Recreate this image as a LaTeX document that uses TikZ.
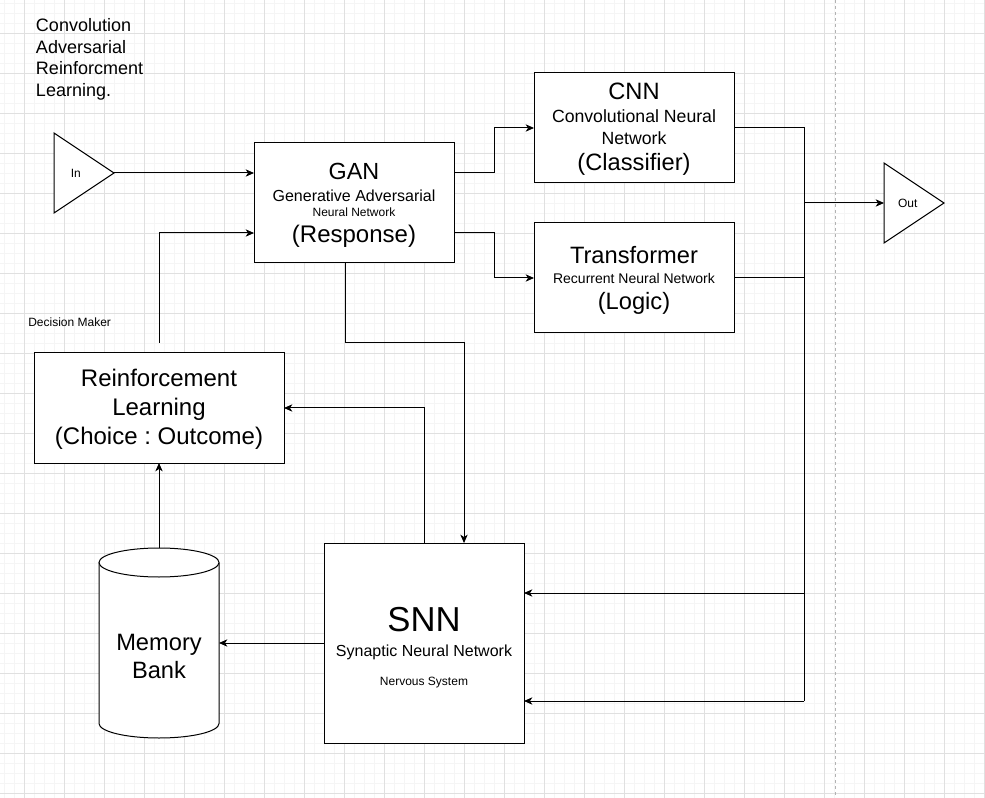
\documentclass[tikz,border=0pt]{standalone}
\usepackage{fontspec}
\setmainfont{Liberation Sans}
\usetikzlibrary{arrows.meta,calc}
\newcommand\fsz[1]{\fontsize{#1pt}{#1pt}\selectfont}
\frenchspacing
\begin{document}
\begin{tikzpicture}[x=0.75pt,y=-0.75pt,
  box/.style={draw=black,line width=0.75pt,fill=white,rectangle,inner sep=0pt,outer sep=0pt},
  lbl/.style={anchor=base,inner sep=0pt,outer sep=0pt,text=black},
  lblw/.style={anchor=base west,inner sep=0pt,outer sep=0pt,text=black},
  wire/.style={line width=0.75pt,draw=black},
  arr/.style={wire,-{Stealth[length=6.25pt,width=5.5pt,inset=1.75pt]}},
  gridminor/.style={draw=black!4,line width=0.75pt},
  gridmajor/.style={draw=black!12,line width=0.75pt},
]
\useasboundingbox (0,0) rectangle (985,798);
\fill[white] (0,0) rectangle (985,798);
% grid
\foreach \gx in {4.5,14.5,...,985} \draw[gridminor] (\gx,0) -- (\gx,798);
\foreach \gy in {3.3,13.3,...,798} \draw[gridminor] (0,\gy) -- (985,\gy);
\foreach \gx in {24.5,64.5,...,985} \draw[gridmajor] (\gx,0) -- (\gx,798);
\foreach \gy in {33.3,73.3,...,798} \draw[gridmajor] (0,\gy) -- (985,\gy);
% page break line
\draw[black!30,line width=0.75pt,dash pattern=on 2.25pt off 2.25pt] (835,0) -- (835,798);

% title text
\node[lblw,font=\fsz{13.5}] (t1) at (36,31.7) {Convolution};
\node[lblw,font=\fsz{13.5}] (t2) at (36,53.3) {Adversarial};
\node[lblw,font=\fsz{13.5}] (t3) at (36,75) {Reinforcment};
\node[lblw,font=\fsz{13.5}] (t4) at (36,96.7) {Learning.};

% boxes
\node[box,minimum width=150pt,minimum height=90pt] (gan) at (354,203) {};
\node[box,minimum width=150pt,minimum height=82.5pt] (cnn) at (634,128) {};
\node[box,minimum width=150pt,minimum height=82.5pt] (tra) at (634,278) {};
\node[box,minimum width=187.5pt,minimum height=82.5pt] (rl) at (159,408) {};
\node[box,minimum width=150pt,minimum height=150pt] (snn) at (424,643) {};
\node[inner sep=0pt,outer sep=0pt,minimum width=90pt,minimum height=142.5pt] (mem) at (159,643) {};

% memory bank cylinder
\filldraw[wire,fill=white] (99,562.5) -- (99,723.5)
  arc[start angle=180,end angle=360,x radius=45pt,y radius=10.875pt] -- (219,562.5);
\filldraw[wire,fill=white] (159,562.5) ellipse[x radius=45pt,y radius=10.875pt];

% in / out triangles
\filldraw[wire,fill=white] (54,133) -- (54,213) -- (114,173) -- cycle;
\coordinate (inTip) at (114,173);
\filldraw[wire,fill=white] (884,163) -- (884,243) -- (944,203) -- cycle;
\coordinate (outIn) at (884,203);
\node[lbl,font=\fsz{9}] (inLbl) at (75.8,177.3) {In};
\node[lbl,font=\fsz{9}] (outLbl) at (907.8,207.3) {Out};

% box texts
\node[lbl,font=\fsz{17.5}] (ganA) at (354,179.3) {GAN};
\node[lbl,font=\fsz{12}] (ganB) at (354,201.7) {Generative Adversarial};
\node[lbl,font=\fsz{9}] (ganC) at (354,216.7) {Neural Network};
\node[lbl,font=\fsz{18}] (ganD) at (354,242.3) {(Response)};

\node[lbl,font=\fsz{17.75}] (cnnA) at (634,99.3) {CNN};
\node[lbl,font=\fsz{13.25}] (cnnB) at (634,122.7) {Convolutional Neural};
\node[lbl,font=\fsz{13.25}] (cnnC) at (634,145) {Network};
\node[lbl,font=\fsz{17.75}] (cnnD) at (634,171) {(Classifier)};

\node[lbl,font=\fsz{17.75}] (traA) at (634,263.3) {Transformer};
\node[lbl,font=\fsz{10.5}] (traB) at (634,283.3) {Recurrent Neural Network};
\node[lbl,font=\fsz{17.75}] (traC) at (634,309.3) {(Logic)};

\node[lbl,font=\fsz{18}] (rlA) at (159,386.7) {Reinforcement};
\node[lbl,font=\fsz{18}] (rlB) at (159,416) {Learning};
\node[lbl,font=\fsz{18}] (rlC) at (159,444.3) {(Choice : Outcome)};
\node[lblw,font=\fsz{9}] (dm) at (28.3,326.7) {Decision Maker};

\node[lbl,font=\fsz{26}] (snnA) at (424,631.7) {SNN};
\node[lbl,font=\fsz{12}] (snnB) at (424,656) {Synaptic Neural Network};
\node[lbl,font=\fsz{9}] (snnC) at (424,685.7) {Nervous System};

\node[lbl,font=\fsz{17.75}] (memA) at (159,650) {Memory};
\node[lbl,font=\fsz{17.75}] (memB) at (159,678.3) {Bank};

% connectors
\draw[arr] (inTip) -- (inTip -| gan.west);
\draw[arr] ($(gan.north east)!0.25!(gan.south east)$) -- ++(40,0) |- (cnn.west);
\draw[arr] ($(gan.north east)!0.75!(gan.south east)$) -- ++(40,0) |- (tra.west);
\draw[arr] ([yshift=7.5pt]rl.north) |- ($(gan.north west)!0.75!(gan.south west)$);
\draw[arr] ($(gan.south west)!0.455!(gan.south east)$) -- ++(0,80) -| ($(snn.north west)!0.7!(snn.north east)$);
\draw[arr] (snn.north) |- (rl.east);
\draw[arr] (mem.north) -- (rl.south);
\draw[arr] (snn.west) -- (mem.east);
\coordinate (busEnd) at (804,701);
\coordinate (busMid) at (804,593);
\draw[wire] (cnn.east) -| (busEnd);
\draw[wire] (tra.east) -- (tra.east -| busEnd);
\draw[arr] (busEnd) -- (busEnd -| snn.east);
\draw[arr] (busMid) -- (busMid -| snn.east);
\draw[arr] (outIn -| busEnd) -- (outIn);
\end{tikzpicture}
\end{document}
